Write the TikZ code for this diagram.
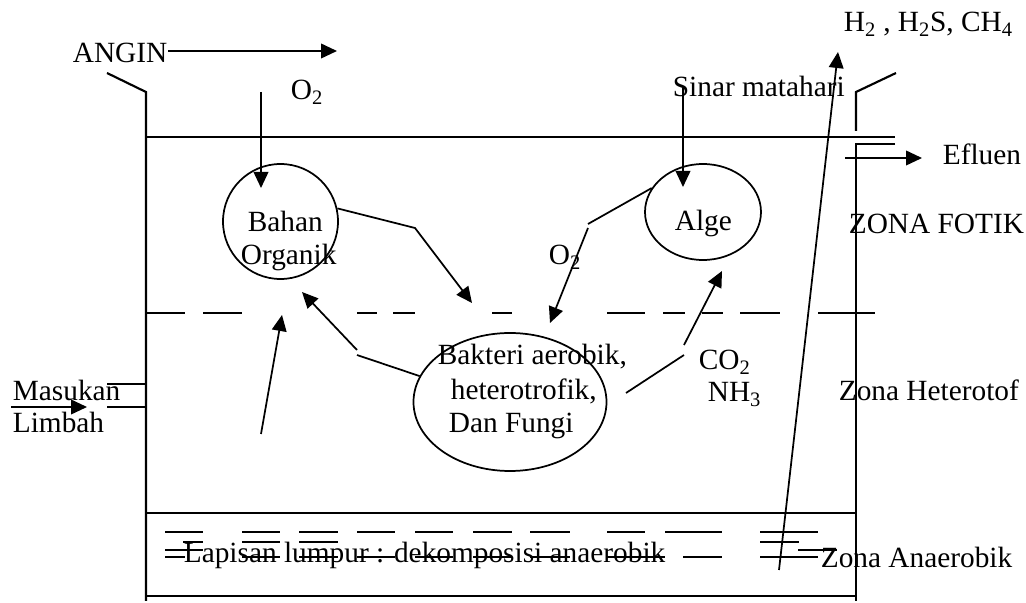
\documentclass[tikz,border=0pt]{standalone}
\usepackage{fontspec}
\setmainfont{Liberation Serif}
\usetikzlibrary{arrows.meta,shapes.geometric}

\tikzset{every picture/.style={line width=1.3pt}}
\tikzset{
	arr/.style={-{Triangle[length=12pt,width=11pt]}},
	wall/.style={line width=1.6pt},
	txt/.style={inner sep=0pt,anchor=base west,font=\fontsize{22}{26}\selectfont},
}

\begin{document}
\begin{tikzpicture}[x=0.75pt,y=0.75pt,yscale=-1,xscale=1]
			\path[fill=white] (0,0) rectangle (1026,601);
			\centering
			%Shape: Pond walls
			\draw[wall] (107,73) -- (146,92) -- (146,601) ;
			\draw[wall] (896,73) -- (856,92) -- (856,131) ;
			\draw[wall] (895,144) -- (856,144) -- (856,601) ;
			%Straight Lines: water surface, sludge layer, bottom
			\draw (146,137) -- (895,137) ;
			\draw (146,513) -- (856,513) ;
			\draw[wall] (146,596) -- (856,596) ;
			%Straight Lines: inlet pipe
			\draw (107,384) -- (146,384) ;
			\draw (107,407) -- (146,407) ;
			%Dashed boundary between the zones
			\foreach \a/\b in {147/185,203/242,357/377,393/415,492/512,607/645,663/685,702/723,740/780,818/875}
				\draw (\a,313) -- (\b,313) ;
			%Dashes in the sludge
			\foreach \a/\b in {165/203,242/280,299/338,357/395,415/453,473/512,530/570,607/645,665/722,760/818}
				\draw (\a,532) -- (\b,532) ;
			\foreach \a/\b in {183/203,242/280,299/338,760/799}
				\draw (\a,542) -- (\b,542) ;
			\foreach \a/\b in {165/203,798/837}
				\draw (\a,550) -- (\b,550) ;

			%Shape: Circle
			\node[circle,draw,minimum size=86.25pt,inner sep=0pt] (bahan) at (280.5,221.5) {};
			%Shape: Ellipse
			\node[ellipse,draw,minimum width=87pt,minimum height=72pt,inner sep=0pt] (alge) at (703,212) {};
			%Shape: Ellipse
			\node[ellipse,draw,minimum width=144.75pt,minimum height=103.5pt,inner sep=0pt] (bakteri) at (510,402) {};

			% Text Node
			\node[txt] (angin) at (72,63) {ANGIN};
			\node[txt] (oksa) at (290,100) {O\textsubscript{2}};
			\node[txt] (gas) at (843,32) {H\textsubscript{2} , H\textsubscript{2}S, CH\textsubscript{4}};
			\node[txt] (sinar) at (672,97) {Sinar matahari};
			\node[txt] (efluen) at (942,165) {Efluen};
			\node[txt] (fotik) at (848,234) {ZONA FOTIK};
			\node[txt] (bahan1) at (247,232) {Bahan};
			\node[txt] (bahan2) at (240,265) {Organik};
			\node[txt] (alget) at (674,231) {Alge};
			\node[txt] (oksb) at (548,265) {O\textsubscript{2}};
			\node[txt] (bak1) at (437,365) {Bakteri aerobik,};
			\node[txt] (bak2) at (450,400) {heterotrofik,};
			\node[txt] (bak3) at (448,433) {Dan Fungi};
			\node[txt] (co) at (698,370) {CO\textsubscript{2}};
			\node[txt] (nh) at (707,402) {NH\textsubscript{3}};
			\node[txt] (hetero) at (838,401) {Zona Heterotof};
			\node[txt] (masuk1) at (12,401) {Masukan};
			\node[txt] (masuk2) at (12,433) {Limbah};
			\node[txt] (lumpur) at (183,563) {Lapisan lumpur : dekomposisi anaerobik};
			\node[txt] (anaer) at (820,568) {Zona Anaerobik};

			%Strike lines over the sludge text
			\foreach \a/\b in {165/185,242/280,299/338,357/395,415/453,473/512,530/570,607/665,683/722,760/818}
				\draw (\a,557) -- (\b,557) ;

			%Arrow ends
			\coordinate (windtip) at (337,51);
			\coordinate (oxtop) at (261,92);
			\coordinate (oxtip) at (261,188);
			\coordinate (suntop) at (683,88);
			\coordinate (suntip) at (683,187);
			\coordinate (gasfoot) at (779,570);
			\coordinate (gastip) at (838,52);
			\coordinate (effa) at (845,158);
			\coordinate (effb) at (922,158);
			\coordinate (ina) at (11,407);
			\coordinate (inb) at (87,407);

			%Straight Lines
			\draw[arr] (angin.east |- 0,51) -- (windtip) ;
			\draw[arr] (oxtop) -- (oxtip) ;
			\draw[arr] (suntop) -- (suntip) ;
			\draw[arr] (gasfoot) -- (gastip) ;
			\draw[arr] (effa) -- (effb) ;
			\draw[arr] (ina) -- (inb) ;
			%Straight Lines: organic matter to bacteria
			\draw[arr] (bahan.13) -- (415,228) -- (472,303) ;
			%Straight Lines: algae oxygen to bacteria
			\draw (alge.155) -- (588,224) ;
			\draw[arr] (588,228) -- (550,323) ;
			%Straight Lines: bacteria back to organic matter
			\draw (bakteri.164) -- (357,355) ;
			\draw[arr] (357,350) -- (302,292) ;
			\draw[arr] (261,434) -- (282,315) ;
			%Straight Lines: CO2, NH3 to algae
			\draw (626,393) -- (684,355) ;
			\draw[arr] (684,345) -- (722,271) ;
\end{tikzpicture}
\end{document}
